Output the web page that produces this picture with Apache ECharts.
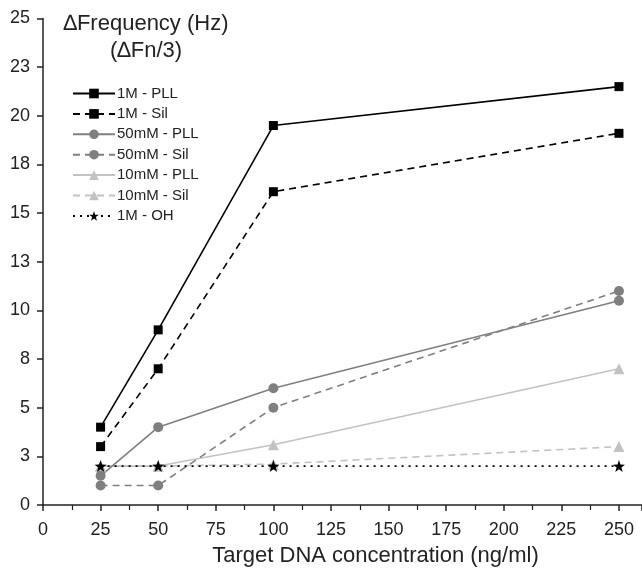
<!DOCTYPE html>
<html>
<head>
<meta charset="utf-8">
<script src="https://cdn.jsdelivr.net/npm/echarts@6/dist/echarts.min.js"></script>
<style>html,body{margin:0;padding:0;background:#fff}#c{width:642px;height:572px}</style>
</head>
<body>
<div id="c"></div>
<script>
const concentrations = [25, 50, 100, 250];
const m1PLL = [4.0, 9.0, 19.5, 21.5];
const m1Sil = [3.0, 7.0, 16.1, 19.1];
const mm50PLL = [1.5, 4.0, 6.0, 10.5];
const mm50Sil = [1.0, 1.0, 5.0, 11.0];
const mm10PLL = [2.0, 2.0, 3.1, 7.0];
const mm10Sil = [2.0, 2.0, 2.1, 3.0];
const m1OH = [2.0, 2.0, 2.0, 2.0];
const yTicks = [0, 2.5, 5, 7.5, 10, 12.5, 15, 17.5, 20, 22.5, 25];
const yTickLabels = ['0', '3', '5', '8', '10', '13', '15', '18', '20', '23', '25'];
const xTickLabels = ['0','25','50','75','100','125','150','175','200','225','250'];

const FONT = 'Liberation Sans, Arial, sans-serif';
function pts(arr){ return concentrations.map((x,i)=>[x, arr[i]]); }
function mk(name, data, color, type, symbol, size){
  return {
    name, type: 'line', data: pts(data), symbol, symbolSize: size,
    itemStyle: {color}, lineStyle: {color, width: 1.6, type},
    emphasis: {disabled: true}, animation: false
  };
}
const chart = echarts.init(document.getElementById('c'), null, {renderer: 'canvas'});
chart.setOption({
  backgroundColor: '#fff',
  animation: false,
  title: {
    text: '\u2206Frequency (Hz)\n(\u2206Fn/3)',
    left: 141, top: 5, textAlign: 'center',
    textStyle: {fontFamily: FONT, fontSize: 22, fontWeight: 'normal', color: '#222', lineHeight: 27, align: 'center'}
  },
  legend: {
    orient: 'vertical', left: 67, top: 81, itemWidth: 42, itemHeight: 12, itemGap: 5.4,
    textStyle: {fontFamily: FONT, fontSize: 15, color: '#222', padding: [0,0,0,-3]},
    data: ['1M - PLL','1M - Sil','50mM - PLL','50mM - Sil','10mM - PLL','10mM - Sil','1M - OH']
  },
  grid: {left: 43, right: 0, top: 18.5, bottom: 66, containLabel: false},
  xAxis: {
    type: 'value', min: 0, max: 260, interval: 25,
    name: 'Target DNA concentration (ng/ml)', nameLocation: 'middle', nameGap: 40,
    nameTextStyle: {fontFamily: FONT, fontSize: 22, color: '#222', padding: [0,0,0,66]},
    axisLine: {lineStyle: {color: '#222', width: 1.5}},
    axisTick: {show: true, inside: false, length: 6, lineStyle: {color: '#222', width: 1.5}},
    minorTick: {show: true, splitNumber: 2, length: 5, lineStyle: {color: '#222', width: 1.2}},
    axisLabel: {fontFamily: FONT, fontSize: 18, color: '#222', margin: 16, showMaxLabel: false,
      formatter: v => { const i = Math.round(v/25); return (v % 25 === 0 && i < xTickLabels.length) ? xTickLabels[i] : ''; }},
    splitLine: {show: false}
  },
  yAxis: {
    type: 'value', min: 0, max: 25, interval: 2.5,
    axisLine: {show: true, lineStyle: {color: '#222', width: 1.5}},
    axisTick: {show: true, inside: false, length: 6, lineStyle: {color: '#222', width: 1.5}},
    axisLabel: {fontFamily: FONT, fontSize: 18, color: '#222', margin: 13,
      formatter: v => { const i = yTicks.indexOf(v); return i >= 0 ? yTickLabels[i] : ''; }},
    splitLine: {show: false}
  },
  series: [
    mk('10mM - Sil', mm10Sil, '#c2c2c2', [7,5], 'triangle', 11),
    mk('10mM - PLL', mm10PLL, '#c2c2c2', 'solid', 'triangle', 11),
    mk('50mM - Sil', mm50Sil, '#7f7f7f', [7,5], 'circle', 10),
    mk('50mM - PLL', mm50PLL, '#7f7f7f', 'solid', 'circle', 10),
    mk('1M - Sil', m1Sil, '#000', [7,5], 'rect', 9),
    mk('1M - PLL', m1PLL, '#000', 'solid', 'rect', 9),
    mk('1M - OH', m1OH, '#000', [2,5], 'path://M0,-10L2.35,-3.24L9.51,-3.09L3.8,1.24L5.88,8.09L0,4L-5.88,8.09L-3.8,1.24L-9.51,-3.09L-2.35,-3.24Z', 12)
  ]
});
</script>
</body>
</html>
